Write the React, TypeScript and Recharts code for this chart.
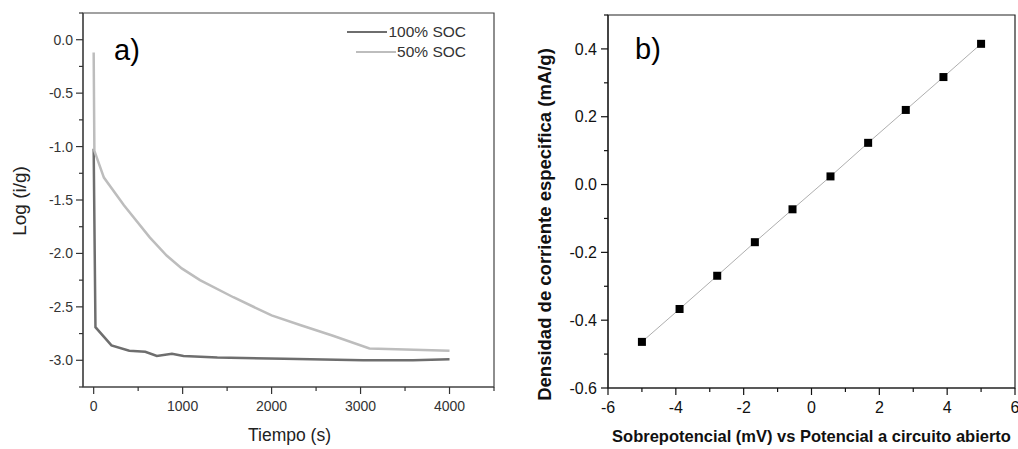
import { LineChart, Line, XAxis, YAxis, ReferenceArea, Legend, Label } from 'recharts';

// panel a) chronoamperometry, log(i/g) vs time
const timeFull = [0, 20, 200, 400, 580, 710, 880, 1010, 1390, 2140, 3030, 3590, 4000];
const logFull = [-1.02, -2.69, -2.86, -2.91, -2.92, -2.96, -2.94, -2.96, -2.975, -2.985, -3.0, -3.0, -2.99];
const timeHalf = [0, 8, 115, 340, 630, 820, 990, 1195, 1570, 2000, 2320, 2690, 3100, 4000];
const logHalf = [-0.12, -1.04, -1.29, -1.55, -1.85, -2.02, -2.14, -2.25, -2.41, -2.58, -2.67, -2.77, -2.89, -2.91];

// panel b) current density vs overpotential
const overpotential = [-5, -3.89, -2.78, -1.67, -0.56, 0.56, 1.67, 2.78, 3.89, 5];
const currentDensity = [-0.464, -0.367, -0.269, -0.17, -0.073, 0.024, 0.123, 0.22, 0.317, 0.415];

const timeTicks = [0, 500, 1000, 1500, 2000, 2500, 3000, 3500, 4000, 4500];
const logTicks = [-3.25, -3, -2.75, -2.5, -2.25, -2, -1.75, -1.5, -1.25, -1, -0.75, -0.5, -0.25, 0, 0.25];
const etaTicks = [-6, -5, -4, -3, -2, -1, 0, 1, 2, 3, 4, 5, 6];
const densityTicks = [-0.6, -0.5, -0.4, -0.3, -0.2, -0.1, 0, 0.1, 0.2, 0.3, 0.4, 0.5];

const FONT = '"Liberation Sans", Arial, sans-serif';
const DARK = '#6e6e6e';
const LIGHT = '#bdbdbd';

const fullData = timeFull.map((t, i) => ({ t, v: logFull[i] }));
const halfData = timeHalf.map((t, i) => ({ t, v: logHalf[i] }));
const polData = overpotential.map((x, i) => ({ x, y: currentDensity[i] }));

const isMult = (v: number, step: number) => Math.abs(v / step - Math.round(v / step)) < 1e-6;

function makeXTick(step: number, fmt: (v: number) => string, size: number, dy: number, color: string) {
  return (props: any) => {
    const { x, y, payload } = props;
    const major = isMult(payload.value, step);
    return (
      <g>
        <line x1={x} x2={x} y1={y} y2={y + (major ? 7 : 4)} stroke={color} strokeWidth={1.2} />
        {major && (
          <text x={x} y={y + dy} textAnchor="middle" fontSize={size} fontFamily={FONT} fill={color}>
            {fmt(payload.value)}
          </text>
        )}
      </g>
    );
  };
}

function makeYTick(step: number, fmt: (v: number) => string, size: number, dx: number, color: string) {
  return (props: any) => {
    const { x, y, payload } = props;
    const major = isMult(payload.value, step);
    return (
      <g>
        <line x1={x} x2={x - (major ? 7 : 4)} y1={y} y2={y} stroke={color} strokeWidth={1.2} />
        {major && (
          <text x={x - dx} y={y + size * 0.36} textAnchor="end" fontSize={size} fontFamily={FONT} fill={color}>
            {fmt(payload.value)}
          </text>
        )}
      </g>
    );
  };
}

const LegendBox = (props: any) => {
  const items = props.payload || [];
  return (
    <div style={{ display: 'flex', flexDirection: 'column', alignItems: 'flex-end', fontFamily: FONT, fontSize: 15.5, color: '#333', lineHeight: '20px' }}>
      {items.map((it: any) => (
        <div key={it.value} style={{ display: 'flex', alignItems: 'center' }}>
          <span style={{ width: 40, height: 0, borderTop: `2.5px solid ${it.color}`, marginRight: 1 }} />
          <span>{it.value}</span>
        </div>
      ))}
    </div>
  );
};

const Square = (props: any) => {
  const { cx, cy } = props;
  if (cx == null || cy == null) return null;
  return <rect x={cx - 4} y={cy - 4} width={8} height={8} fill="#000" />;
};

export default function App() {
  return (
    <div style={{ position: 'absolute', left: 0, top: 0, width: 1018, height: 449, background: '#fff', fontFamily: FONT }}>
      <div style={{ position: 'absolute', left: 0, top: 0 }}>
        <LineChart width={505} height={449} margin={{ top: 13, right: 11, bottom: 0, left: 0 }}>
          <XAxis
            type="number"
            dataKey="t"
            domain={[-120, 4500]}
            ticks={timeTicks}
            interval={0}
            height={62}
            tickSize={0}
            tickMargin={0}
            tickLine={false}
            axisLine={{ stroke: '#444', strokeWidth: 1.2 }}
            tick={makeXTick(1000, (v) => String(v), 14, 24, '#333')}
          >
            <Label
              content={(p: any) => (
                <text x={p.viewBox.x + p.viewBox.width / 2 + 1} y={p.viewBox.y + 54} textAnchor="middle" fontSize={17.5} fontFamily={FONT} fill="#222">
                  Tiempo (s)
                </text>
              )}
            />
          </XAxis>
          <YAxis
            type="number"
            domain={[-3.25, 0.25]}
            ticks={logTicks}
            interval={0}
            width={83}
            tickSize={0}
            tickMargin={0}
            tickLine={false}
            axisLine={{ stroke: '#444', strokeWidth: 1.2 }}
            tick={makeYTick(0.5, (v) => v.toFixed(1), 14, 10, '#333')}
          >
            <Label
              content={(p: any) => {
                const cy = p.viewBox.y + p.viewBox.height / 2 + 1;
                return (
                  <text x={26} y={cy} transform={`rotate(-90 26 ${cy})`} textAnchor="middle" fontSize={19} fontFamily={FONT} fill="#222">
                    Log (i/g)
                  </text>
                );
              }}
            />
          </YAxis>
          <ReferenceArea x1={-120} x2={4500} y1={-3.25} y2={0.25} fill="none" stroke="#444" strokeWidth={1.2} />
          <Legend
            layout="vertical"
            align="center"
            verticalAlign="middle"
            content={LegendBox}
            wrapperStyle={{ top: 22, right: 39, left: 'auto', bottom: 'auto', width: 'auto' }}
          />
          <Line data={fullData} dataKey="v" name="100% SOC" stroke={DARK} strokeWidth={2.5} dot={false} isAnimationActive={false} />
          <Line data={halfData} dataKey="v" name="50% SOC" stroke={LIGHT} strokeWidth={2.5} dot={false} isAnimationActive={false} />
        </LineChart>
        <div style={{ position: 'absolute', left: 114, top: 30, fontSize: 29, lineHeight: '40px', color: '#000' }}>a)</div>
      </div>

      <div style={{ position: 'absolute', left: 510, top: 0 }}>
        <LineChart width={508} height={449} data={polData} margin={{ top: 15, right: 3, bottom: 0, left: 0 }}>
          <XAxis
            type="number"
            dataKey="x"
            domain={[-6, 6]}
            ticks={etaTicks}
            interval={0}
            height={61}
            tickSize={0}
            tickMargin={0}
            tickLine={false}
            axisLine={{ stroke: '#222', strokeWidth: 1.2 }}
            tick={makeXTick(2, (v) => String(v), 16, 25, '#111')}
          >
            <Label
              content={(p: any) => (
                <text x={p.viewBox.x + p.viewBox.width / 2} y={p.viewBox.y + 54} textAnchor="middle" fontSize={16.5} fontWeight="bold" fontFamily={FONT} fill="#111">
                  Sobrepotencial (mV) vs Potencial a circuito abierto
                </text>
              )}
            />
          </XAxis>
          <YAxis
            type="number"
            domain={[-0.6, 0.5]}
            ticks={densityTicks}
            interval={0}
            width={98}
            tickSize={0}
            tickMargin={0}
            tickLine={false}
            axisLine={{ stroke: '#222', strokeWidth: 1.2 }}
            tick={makeYTick(0.2, (v) => v.toFixed(1), 16, 11, '#111')}
          >
            <Label
              content={(p: any) => {
                const cy = p.viewBox.y + p.viewBox.height / 2 + 23;
                return (
                  <text x={41} y={cy} transform={`rotate(-90 41 ${cy})`} textAnchor="middle" fontSize={18.5} fontWeight="bold" fontFamily={FONT} fill="#111">
                    Densidad de corriente especifica (mA/g)
                  </text>
                );
              }}
            />
          </YAxis>
          <ReferenceArea x1={-6} x2={6} y1={-0.6} y2={0.5} fill="none" stroke="#222" strokeWidth={1.2} />
          <Line dataKey="y" stroke="#999" strokeWidth={0.8} dot={<Square />} isAnimationActive={false} />
        </LineChart>
        <div style={{ position: 'absolute', left: 125, top: 29, fontSize: 29, lineHeight: '40px', color: '#000' }}>b)</div>
      </div>
    </div>
  );
}
